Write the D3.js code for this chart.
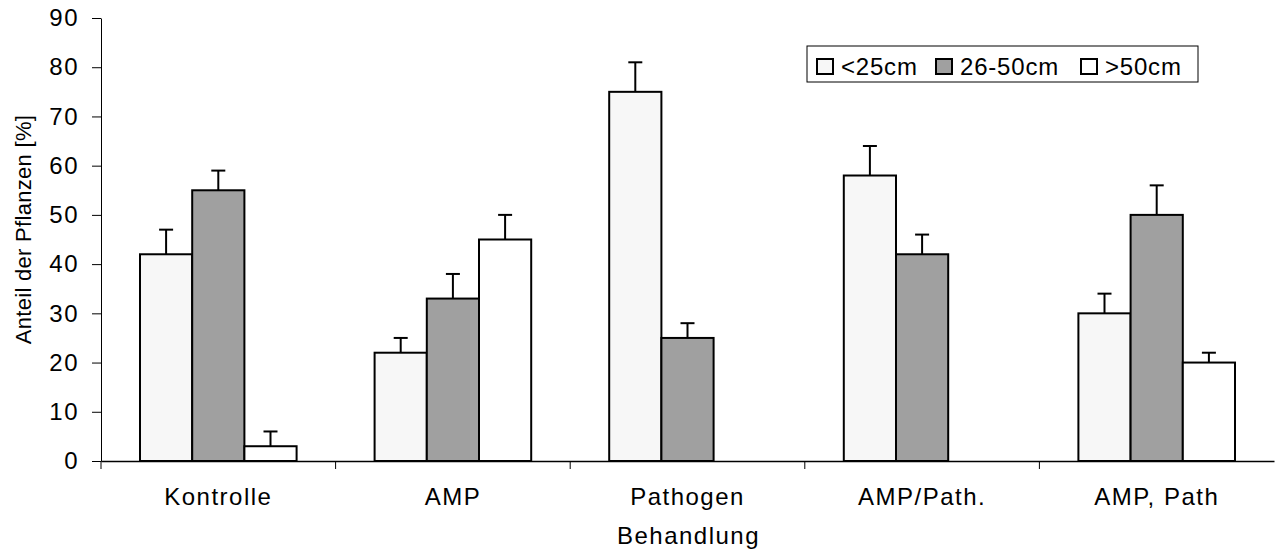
<!DOCTYPE html>
<html>
<head>
<meta charset="utf-8">
<script src="https://cdn.jsdelivr.net/npm/d3@7"></script>
<style>
    body { margin: 0; background: #fff; }
    text { font-family: "Liberation Sans", Arial, sans-serif; fill: #000; }
</style>
</head>
<body>
<div id="canvas"></div>
<script>
// Daten
const categories = ["Kontrolle", "AMP", "Pathogen", "AMP/Path.", "AMP, Path"];
const seriesNames = ["<25cm", "26-50cm", ">50cm"];
const seriesColors = ["#f7f7f7", "#a0a0a0", "#ffffff"];
const small = [42, 22, 75, 58, 30];
const medium = [55, 33, 25, 42, 50];
const large = [3, 45, 0, 0, 20];
const smallErr = [5, 3, 6, 6, 4];
const mediumErr = [4, 5, 3, 4, 6];
const largeErr = [3, 5, 0, 0, 2];
const yTicks = [0, 10, 20, 30, 40, 50, 60, 70, 80, 90];

const series = [small, medium, large];
const errors = [smallErr, mediumErr, largeErr];

const width = 1279;
const height = 551;
const margin = { top: 18, left: 101, bottom: 90, right: 5 };
const iwidth = width - margin.left - margin.right;
const iheight = height - margin.top - margin.bottom;

const svg = d3.select("#canvas").append("svg")
    .attr("width", width)
    .attr("height", height);

const g = svg.append("g").attr("transform", `translate(${margin.left},${margin.top})`);

const x = d3.scaleBand()
    .domain(categories)
    .range([0, iwidth])
    .paddingInner(0)
    .paddingOuter(0);

const x1 = d3.scaleBand()
    .domain(d3.range(seriesNames.length))
    .range([39, x.bandwidth() - 39]);

const y = d3.scaleLinear()
    .domain([0, 90])
    .range([iheight, 0]);

// bars
series.forEach((vals, s) => {
    g.selectAll(".bar" + s)
        .data(categories.filter((c, i) => vals[i] > 0))
        .enter().append("rect")
        .attr("x", c => x(c) + x1(s))
        .attr("y", c => y(vals[categories.indexOf(c)]))
        .attr("width", x1.bandwidth())
        .attr("height", c => y(0) - y(vals[categories.indexOf(c)]))
        .style("fill", seriesColors[s])
        .style("stroke", "#000")
        .style("stroke-width", 2);

    // error bars
    categories.forEach((c, i) => {
        if (vals[i] <= 0) return;
        const cx = x(c) + x1(s) + x1.bandwidth() / 2;
        g.append("line")
            .attr("x1", cx).attr("x2", cx)
            .attr("y1", y(vals[i])).attr("y2", y(vals[i] + errors[s][i]))
            .style("stroke", "#000").style("stroke-width", 2);
        g.append("line")
            .attr("x1", cx - 7).attr("x2", cx + 7)
            .attr("y1", y(vals[i] + errors[s][i])).attr("y2", y(vals[i] + errors[s][i]))
            .style("stroke", "#000").style("stroke-width", 2);
    });
});

// y axis
const yAxis = g.append("g")
    .call(d3.axisLeft(y).tickValues(yTicks).tickSize(9).tickPadding(13).tickSizeOuter(0));
yAxis.select(".domain").attr("stroke", "#000").attr("stroke-width", 1);
yAxis.selectAll("text")
    .style("font-size", "24px")
    .style("letter-spacing", "1.5px")
    .style("font-family", "Liberation Sans, Arial, sans-serif");

// x axis
const xAxis = g.append("g")
    .attr("transform", `translate(0,${iheight})`)
    .call(d3.axisBottom(x).tickSize(0).tickPadding(27));
xAxis.select(".domain").attr("stroke", "#000").attr("stroke-width", 1.5);
xAxis.selectAll("text")
    .style("font-size", "24px")
    .style("letter-spacing", "1.5px")
    .style("font-family", "Liberation Sans, Arial, sans-serif");

// Kategoriegrenzen
g.selectAll(".sep")
    .data(categories)
    .enter().append("line")
    .attr("x1", c => x(c)).attr("x2", c => x(c))
    .attr("y1", iheight).attr("y2", iheight + 8)
    .style("stroke", "#000").style("stroke-width", 1);

// axis titles
g.append("text")
    .attr("text-anchor", "middle")
    .style("font-size", "24px")
    .style("letter-spacing", "1.5px")
    .attr("x", iwidth / 2 + 1)
    .attr("y", iheight + 83)
    .text("Behandlung");

g.append("text")
    .attr("text-anchor", "middle")
    .style("font-size", "22px")
    .style("letter-spacing", "0.3px")
    .attr("transform", `translate(-70,${iheight / 2 - 10}) rotate(-90)`)
    .text("Anteil der Pflanzen [%]");

// legend
const legend = svg.append("g").attr("transform", "translate(807,46)");
legend.append("rect")
    .attr("width", 391).attr("height", 36)
    .style("fill", "#fff").style("stroke", "#000").style("stroke-width", 1);

const legendX = [10, 129, 274];
seriesNames.forEach((name, s) => {
    legend.append("rect")
        .attr("x", legendX[s]).attr("y", 13)
        .attr("width", 16).attr("height", 15)
        .style("fill", seriesColors[s]).style("stroke", "#000").style("stroke-width", 2);
    legend.append("text")
        .attr("x", legendX[s] + 24).attr("y", 29)
        .style("font-size", "24px")
        .style("letter-spacing", "0.8px")
        .text(name);
});
</script>
</body>
</html>
